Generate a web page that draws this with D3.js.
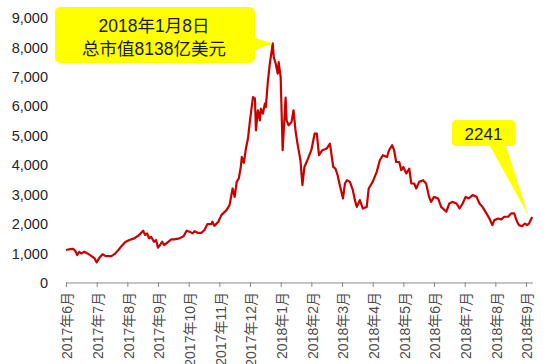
<!DOCTYPE html>
<html><head><meta charset="utf-8">
<script src="https://cdn.jsdelivr.net/npm/d3@7"></script>
<style>
html,body{margin:0;padding:0;background:#fff;}
svg{display:block;font-family:"Liberation Sans",Arial,"Noto Sans CJK SC",sans-serif;}
</style></head>
<body><svg id="c" width="550" height="364"></svg>
<script>
// month index 0 = 2017-06; tick labels
const tickLabels = ["2017年6月","2017年7月","2017年8月","2017年9月","2017年10月","2017年11月","2017年12月",
  "2018年1月","2018年2月","2018年3月","2018年4月","2018年5月","2018年6月","2018年7月","2018年8月","2018年9月"];
const yTicks = [0,1000,2000,3000,4000,5000,6000,7000,8000,9000];
const dates = ["2017-06-01","2017-06-05","2017-06-08","2017-06-10","2017-06-12","2017-06-14","2017-06-16","2017-06-19","2017-06-22","2017-06-26","2017-06-29",
"2017-07-01","2017-07-04","2017-07-07","2017-07-10","2017-07-12","2017-07-16","2017-07-19","2017-07-23","2017-07-26","2017-07-30",
"2017-08-03","2017-08-08","2017-08-13","2017-08-17","2017-08-19","2017-08-21","2017-08-23","2017-08-25","2017-08-28","2017-08-30",
"2017-09-01","2017-09-03","2017-09-05","2017-09-07","2017-09-11","2017-09-14","2017-09-17","2017-09-22","2017-09-26","2017-09-29",
"2017-10-02","2017-10-05","2017-10-07","2017-10-10","2017-10-14","2017-10-17","2017-10-20","2017-10-24","2017-10-25","2017-10-27","2017-10-31",
"2017-11-03","2017-11-08","2017-11-11","2017-11-14","2017-11-16","2017-11-18","2017-11-20","2017-11-22","2017-11-23","2017-11-25","2017-11-27","2017-11-29",
"2017-12-01","2017-12-04","2017-12-06","2017-12-07","2017-12-09","2017-12-11","2017-12-12","2017-12-14","2017-12-16","2017-12-17","2017-12-19","2017-12-21","2017-12-24","2017-12-25","2017-12-27","2017-12-29","2017-12-30",
"2018-01-01","2018-01-03","2018-01-06","2018-01-07","2018-01-09","2018-01-12","2018-01-14","2018-01-16","2018-01-18","2018-01-21","2018-01-23","2018-01-25","2018-01-28",
"2018-02-01","2018-02-04","2018-02-06","2018-02-08","2018-02-11","2018-02-15","2018-02-18","2018-02-21","2018-02-23","2018-02-25","2018-02-27",
"2018-03-02","2018-03-04","2018-03-06","2018-03-09","2018-03-12","2018-03-14","2018-03-16","2018-03-19","2018-03-22","2018-03-26","2018-03-28",
"2018-04-01","2018-04-05","2018-04-08","2018-04-11","2018-04-15","2018-04-17","2018-04-20","2018-04-22","2018-04-24","2018-04-27","2018-04-29",
"2018-05-01","2018-05-04","2018-05-07","2018-05-09","2018-05-12","2018-05-14","2018-05-17","2018-05-21","2018-05-24","2018-05-27","2018-05-29",
"2018-06-01","2018-06-05","2018-06-08","2018-06-13","2018-06-16","2018-06-19","2018-06-23","2018-06-26","2018-06-29",
"2018-07-02","2018-07-05","2018-07-09","2018-07-13","2018-07-16","2018-07-19","2018-07-23","2018-07-26","2018-07-29","2018-07-31",
"2018-08-04","2018-08-07","2018-08-10","2018-08-14","2018-08-17","2018-08-20","2018-08-23","2018-08-25","2018-08-28","2018-08-31",
"2018-09-02","2018-09-04","2018-09-07"];
const values = [1120,1150,1160,1095,950,1060,1005,1060,1005,915,835,
700,870,980,915,915,915,980,1120,1250,1390,
1460,1515,1630,1775,1630,1685,1515,1570,1400,1460,
1200,1290,1400,1290,1400,1480,1480,1515,1590,1775,
1740,1685,1760,1705,1705,1800,2000,2000,2080,1940,2080,
2305,2475,2645,3210,2925,3435,3550,3940,4280,4080,4565,4905,
5525,6315,6260,5185,5865,5525,5920,5750,6090,5975,6825,7445,8138,7670,7445,7110,7500,6990,
4510,6300,5525,5355,5470,5865,5185,4735,4170,3320,3940,4170,
4510,5070,5070,4340,4510,4565,4735,3940,3885,3660,3320,
2870,3380,3490,3435,3150,2815,2585,2815,2530,2585,3210,
3435,3775,4170,4340,4280,4510,4680,4510,4110,4110,3830,
3940,3720,3885,3380,3380,3210,3435,3490,3380,2925,2755,
2925,2870,2585,2420,2700,2755,2700,2530,2700,
2925,2870,2985,2925,2700,2585,2365,2190,1965,2135,
2190,2160,2250,2250,2365,2365,2080,1965,1930,2020,
1965,2020,2241];
const peakLabel = ["2018年1月8日","总市值8138亿美元"];
const lastLabel = "2241";

function monthCoord(s){
  const [Y,M,D] = s.split("-").map(Number);
  const idx = (Y-2017)*12 + (M-6);
  const dim = new Date(Y, M, 0).getDate();
  return idx + (D-1)/dim;
}
const data = dates.map((d,i)=>({m:monthCoord(d), v:values[i]}));

const svg = d3.select("#c");
const x = d3.scaleLinear().domain([0,15]).range([66,526]);
const y = d3.scaleLinear().domain([0,9000]).range([283,18]);
const font = '"Liberation Sans",Arial,"Noto Sans CJK SC",sans-serif';

// x axis
const xAxis = d3.axisBottom(x).tickValues(d3.range(0,16)).tickSize(4).tickSizeOuter(0).tickFormat(i=>tickLabels[i]);
const gx = svg.append("g").attr("transform","translate(0,283)").call(xAxis);
gx.select(".domain").attr("stroke","#8c8c8c").attr("d","M66,0H533");
gx.selectAll(".tick line").attr("stroke","#8c8c8c").attr("y1",-1);
gx.selectAll(".tick text").attr("font-size",14).attr("fill","#4d4d4d").attr("font-family",font)
  .attr("transform","rotate(-90)").attr("text-anchor","end").attr("x",-9).attr("y",1).attr("dy","0.35em");

// y axis labels
const yAxis = d3.axisLeft(y).tickValues(yTicks).tickSize(0).tickPadding(0).tickFormat(d3.format(","));
const gy = svg.append("g").attr("transform","translate(48,0)").call(yAxis);
gy.select(".domain").remove();
gy.selectAll(".tick text").attr("font-size",14.5).attr("fill","#262626").attr("font-family",font);

// line
const line = d3.line().x(d=>x(d.m)).y(d=>y(d.v));
svg.append("path").datum(data).attr("d",line).attr("fill","none")
  .attr("stroke","#c80000").attr("stroke-width",2.2).attr("stroke-linejoin","round");

// peak callout
const peak = data.reduce((a,b)=>b.v>a.v?b:a);
const px = x(peak.m), py = y(peak.v);
const b1 = {x0:55,y0:7,x1:255,y1:63,r:6};
svg.append("path").attr("fill","#ffff00")
  .attr("d",`M${b1.x0+b1.r},${b1.y0}H${b1.x1-b1.r}Q${b1.x1},${b1.y0} ${b1.x1},${b1.y0+b1.r}V38L${px},${py}L${b1.x1},50V${b1.y1-b1.r}Q${b1.x1},${b1.y1} ${b1.x1-b1.r},${b1.y1}H${b1.x0+b1.r}Q${b1.x0},${b1.y1} ${b1.x0},${b1.y1-b1.r}V${b1.y0+b1.r}Q${b1.x0},${b1.y0} ${b1.x0+b1.r},${b1.y0}Z`);
svg.append("text").attr("x",154).attr("y",31.5).attr("text-anchor","middle").attr("font-size",17.5).attr("fill","#1a1a1a").text(peakLabel[0]);
svg.append("text").attr("x",154).attr("y",54.5).attr("text-anchor","middle").attr("font-size",17.5).attr("fill","#1a1a1a").text(peakLabel[1]);

// last callout
const last = data[data.length-1];
const lx = x(last.m)-4, ly = y(last.v)-2;
const b2 = {x0:452,y0:120,x1:515,y1:146,r:4};
svg.append("path").attr("fill","#ffff00")
  .attr("d",`M${b2.x0+b2.r},${b2.y0}H${b2.x1-b2.r}Q${b2.x1},${b2.y0} ${b2.x1},${b2.y0+b2.r}V${b2.y1-b2.r}Q${b2.x1},${b2.y1} ${b2.x1-b2.r},${b2.y1}H506L${lx},${ly}L490,${b2.y1}H${b2.x0+b2.r}Q${b2.x0},${b2.y1} ${b2.x0},${b2.y1-b2.r}V${b2.y0+b2.r}Q${b2.x0},${b2.y0} ${b2.x0+b2.r},${b2.y0}Z`);
svg.append("text").attr("x",483.5).attr("y",139.5).attr("text-anchor","middle").attr("font-size",17).attr("fill","#1a1a1a").text(lastLabel);
</script></body></html>
